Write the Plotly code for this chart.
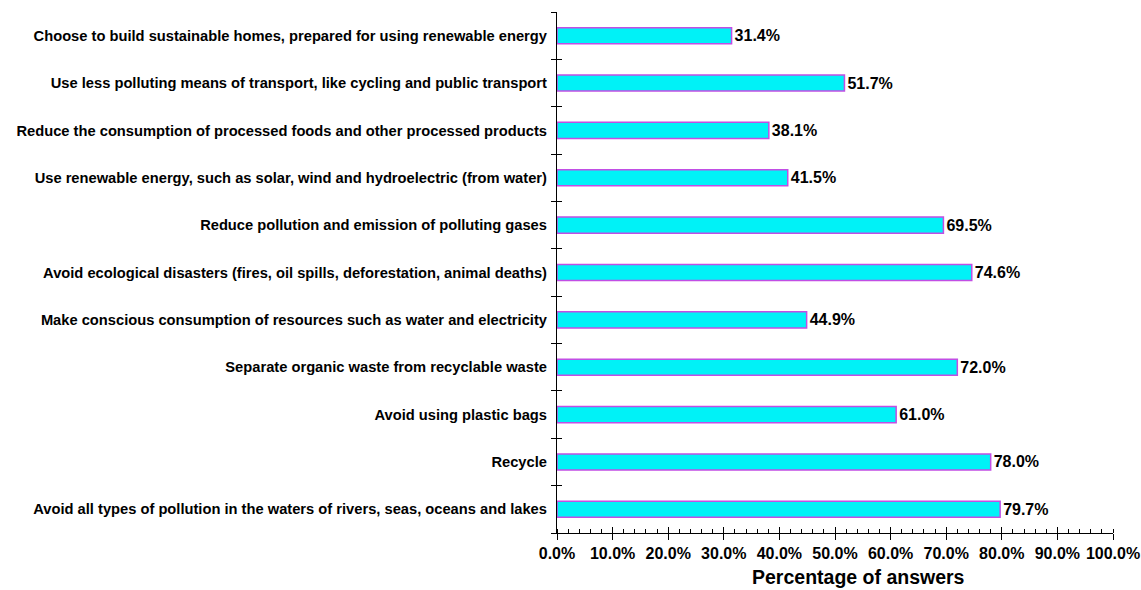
import plotly.graph_objects as go

categories = [
    "Avoid all types of pollution in the waters of rivers, seas, oceans and lakes",
    "Recycle",
    "Avoid using plastic bags",
    "Separate organic waste from recyclable waste",
    "Make conscious consumption of resources such as water and electricity",
    "Avoid ecological disasters (fires, oil spills, deforestation, animal deaths)",
    "Reduce pollution and emission of polluting gases",
    "Use renewable energy, such as solar, wind and hydroelectric (from water)",
    "Reduce the consumption of processed foods and other processed products",
    "Use less polluting means of transport, like cycling and public transport",
    "Choose to build sustainable homes, prepared for using renewable energy",
]
values = [79.7, 78.0, 61.0, 72.0, 44.9, 74.6, 69.5, 41.5, 38.1, 51.7, 31.4]
tick_vals = [0, 10, 20, 30, 40, 50, 60, 70, 80, 90, 100]
tick_text = [f"{v:.1f}%" for v in tick_vals]
x_title = "Percentage of answers"

yrange = [-0.5, len(categories) - 0.5]

fig = go.Figure()
fig.add_trace(go.Bar(
    x=values, y=categories, orientation="h", width=0.34,
    marker=dict(color="#00F2F7", line=dict(color="#C24EE4", width=1.5)),
    text=[f"{v:.1f}%" for v in values], textposition="outside",
    constraintext="none",
    textfont=dict(family="Liberation Sans", size=16, color="black"),
    texttemplate="<b>%{text}</b>", cliponaxis=False, showlegend=False,
))
# helper trace so overlay axes (for crossing ticks) are drawn
fig.add_trace(go.Bar(
    x=[0] * len(categories), y=categories, xaxis="x2", yaxis="y2", orientation="h",
    showlegend=False, hoverinfo="skip", marker=dict(opacity=0),
))

fig.update_layout(
    width=1141, height=590, autosize=False,
    margin=dict(l=557, r=28, t=12, b=57, autoexpand=False),
    plot_bgcolor="white", paper_bgcolor="white",
    showlegend=False,
    font=dict(family="Liberation Sans", color="black"),
    xaxis=dict(
        range=[0, 100], tickvals=tick_vals, ticktext=[f"<b>{t}</b>" for t in tick_text],
        automargin=False,
        showgrid=False, zeroline=False, showline=True, linecolor="black", linewidth=1.2,
        ticks="outside", ticklen=6, tickwidth=1.2, tickcolor="black",
        minor=dict(dtick=2, ticks="inside", ticklen=4, tickcolor="black", tickwidth=1),
        tickfont=dict(size=16),
    ),
    xaxis2=dict(
        overlaying="x", range=[0, 100], tickvals=tick_vals, anchor="y2", automargin=False,
        showticklabels=False, showgrid=False, zeroline=False, showline=False,
        ticks="inside", ticklen=6, tickwidth=1.2, tickcolor="black", side="bottom",
    ),
    yaxis=dict(
        range=yrange, type="category", automargin=False,
        showgrid=False, showline=True, linecolor="black", linewidth=1.2,
        ticks="outside", tickson="boundaries", ticklen=5, tickwidth=1.2, tickcolor="black",
        tickfont=dict(size=14.7), ticklabelstandoff=6,
        tickvals=categories, ticktext=[f"<b>{c}</b>" for c in categories],
    ),
    yaxis2=dict(
        overlaying="y", range=yrange, type="category", side="left", anchor="x2",
        automargin=False,
        showticklabels=False, showgrid=False, showline=False, zeroline=False,
        ticks="inside", tickson="boundaries", ticklen=5, tickwidth=1.2, tickcolor="black",
    ),
    annotations=[dict(
        text=f"<b>{x_title}</b>", xref="paper", yref="paper", x=0.543, y=-0.084,
        xanchor="center", yanchor="middle", showarrow=False,
        font=dict(size=19.5, family="Liberation Sans", color="black"),
    )],
    bargap=0.66,
)

fig.write_html(
    "out.html",
    config={"displayModeBar": False},
    post_script="document.body.style.margin='0';document.body.style.overflow='hidden';",
)
